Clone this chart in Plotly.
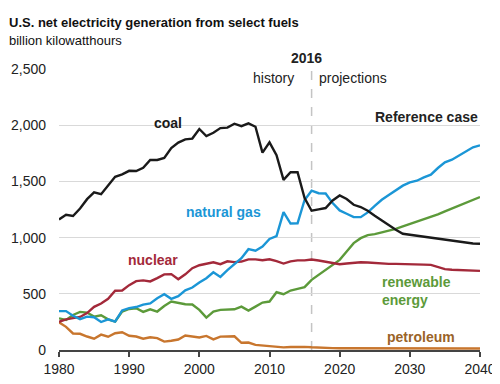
import plotly.graph_objects as go

years = list(range(1980, 2041))

coal = [1162, 1203, 1192, 1259, 1342, 1402, 1386, 1464, 1541, 1562, 1594, 1592, 1621, 1690, 1691,
        1709, 1796, 1845, 1874, 1881, 1966, 1904, 1933, 1974, 1978, 2013, 1991, 2016, 1986, 1756,
        1847, 1733, 1514, 1581, 1582, 1352, 1239,
        1251, 1263, 1331, 1375, 1343, 1292, 1272, 1239, 1194, 1153, 1108, 1070, 1034, 1025, 1019,
        1010, 1004, 989, 980, 974, 965, 954, 947, 945]

natural_gas = [346, 346, 305, 274, 297, 292, 249, 273, 253, 352, 373, 382, 404, 415, 461,
               496, 455, 479, 531, 556, 601, 639, 691, 650, 710, 761, 816, 897, 883, 921,
               988, 1014, 1226, 1125, 1127, 1335, 1417,
               1395, 1392, 1307, 1242, 1212, 1182, 1182, 1224, 1283, 1337, 1379, 1420, 1462, 1491,
               1506, 1536, 1560, 1619, 1669, 1693, 1732, 1771, 1803, 1821]

nuclear = [251, 273, 283, 294, 328, 384, 414, 455, 527, 529, 577, 613, 619, 610, 640,
           673, 675, 629, 673, 728, 754, 769, 780, 764, 789, 782, 787, 806, 806, 799,
           807, 790, 769, 789, 797, 797, 805,
           796, 784, 772, 763, 770, 775, 781, 778, 772, 766, 766, 766, 766, 766, 763,
           760, 757, 737, 719, 714, 711, 708, 708, 704]

renewable = [282, 267, 312, 339, 333, 297, 309, 273, 253, 342, 365, 371, 339, 362, 342,
             392, 431, 422, 407, 405, 357, 288, 342, 357, 357, 362, 386, 351, 386, 422,
             431, 514, 496, 529, 544, 559, 624,
             668, 719, 757, 802, 876, 951, 995, 1022, 1031, 1046, 1061, 1078, 1099, 1120, 1138,
             1159, 1182, 1206, 1233, 1259, 1283, 1313, 1337, 1361]

petroleum = [246, 206, 147, 144, 120, 100, 137, 118, 149, 158, 127, 120, 100, 113, 106,
             75, 82, 93, 129, 118, 111, 125, 95, 119, 121, 122, 64, 66, 46, 39,
             37, 30, 23, 27, 30, 28, 24,
             20, 18, 17, 16, 16, 15, 15, 15, 15, 14, 14, 14, 14, 14, 14,
             14, 13, 13, 13, 13, 13, 13, 13, 13]

y_ticks = [0, 500, 1000, 1500, 2000, 2500]
x_ticks = [1980, 1990, 2000, 2010, 2020, 2030, 2040]

FONT = "Liberation Sans, Arial, sans-serif"
C_COAL = "#1a1a1a"
C_GAS = "#1b96d6"
C_NUC = "#a3293a"
C_REN = "#5c9a3a"
C_PET = "#c8762e"

fig = go.Figure()
series = [
    ("renewable energy", renewable, C_REN),
    ("petroleum", petroleum, C_PET),
    ("nuclear", nuclear, C_NUC),
    ("natural gas", natural_gas, C_GAS),
    ("coal", coal, C_COAL),
]
for name, vals, col in series:
    fig.add_trace(go.Scatter(x=years, y=vals, mode="lines", name=name,
                             line=dict(color=col, width=2.4), hoverinfo="x+y"))

fig.add_shape(type="line", x0=2016, x1=2016, xref="x", y0=0, y1=1.025, yref="paper",
              line=dict(color="#c4c4c4", width=1.5, dash="dash"), layer="below")

def ann(text, x, y, color, size=14, bold=True, xanchor="center", xref="x", yref="y", align="center"):
    t = f"<b>{text}</b>" if bold else text
    fig.add_annotation(text=t, x=x, y=y, xref=xref, yref=yref, showarrow=False,
                       xanchor=xanchor, yanchor="middle", align=align,
                       font=dict(family=FONT, size=size, color=color))

ann("coal", 1995.5, 2023, C_COAL)
ann("natural gas", 2003.4, 1230, C_GAS)
ann("nuclear", 1993.4, 802, C_NUC)
ann("renewable<br>energy", 2025.7, 521, C_REN, xanchor="left", align="left")
ann("petroleum", 2026.4, 116, "#9a6328", xanchor="left")
ann("Reference case", 2040, 2077, "#222222", xanchor="right")
ann("history", 2013.8, 2424, "#222222", bold=False, xanchor="right")
ann("projections", 2016.75, 2424, "#222222", bold=False, xanchor="left")
ann("2016", 2015.3, 1.039, "#222222", yref="paper")

ann("U.S. net electricity generation from select fuels", -0.123, 1.167, "#111111",
    size=13, xanchor="left", xref="paper", yref="paper")
ann("billion kilowatthours", -0.123, 1.103, "#111111", size=13, bold=False,
    xanchor="left", xref="paper", yref="paper")

fig.update_layout(
    width=492, height=376,
    margin=dict(l=51, r=20, t=61, b=34),
    paper_bgcolor="white", plot_bgcolor="white",
    showlegend=False,
    font=dict(family=FONT, size=14, color="#222222"),
    xaxis=dict(range=[1980, 2040], tickvals=x_ticks, showgrid=False, zeroline=False,
               showline=True, linecolor="#444444", linewidth=1.5, automargin=False,
               ticks="outside", ticklen=5, tickcolor="#444444", tickwidth=1.5,
               tickfont=dict(family=FONT, size=14, color="#222222")),
    yaxis=dict(range=[0, 2500], tickvals=y_ticks, tickformat=",", showgrid=True,
               gridcolor="#d9d9d9", gridwidth=1, zeroline=False, showline=False,
               ticks="", ticklabelstandoff=12, automargin=False,
               tickfont=dict(family=FONT, size=14, color="#222222")),
)

fig.write_html("out.html")
